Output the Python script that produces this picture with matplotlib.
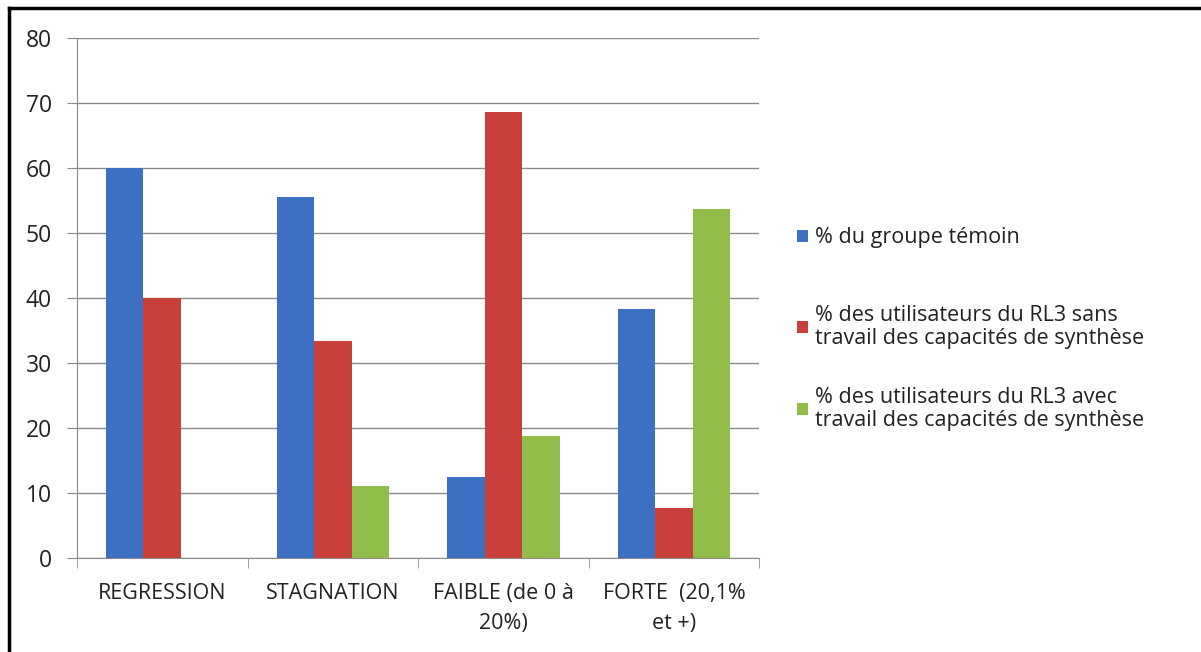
import numpy as np
import matplotlib
matplotlib.use("Agg")
import matplotlib.pyplot as plt
from matplotlib.lines import Line2D

plt.rcParams['font.family'] = ['Open Sans', 'DejaVu Sans']

categories = ["REGRESSION", "STAGNATION", "FAIBLE (de 0 à\n20%)", "FORTE  (20,1%\net +)"]
temoin = [60.0, 55.5, 12.4, 38.3]
sans_synthese = [40.0, 33.4, 68.6, 7.7]
avec_synthese = [0.0, 11.1, 18.8, 53.7]
series_labels = ["% du groupe témoin",
                 "% des utilisateurs du RL3 sans\ntravail des capacités de synthèse",
                 "% des utilisateurs du RL3 avec\ntravail des capacités de synthèse"]
colors = ["#3d6fc2", "#c9403b", "#93bd4a"]

fig = plt.figure(figsize=(12.01, 6.52), dpi=100)
ax = fig.add_axes([0.0641, 0.1442, 0.568, 0.7975])

x = np.arange(len(categories))
w = 0.22
handles = []
for i, (vals, col) in enumerate(zip([temoin, sans_synthese, avec_synthese], colors)):
    b = ax.bar(x + (i - 1) * w, vals, width=w, color=col, zorder=3)
    handles.append(b)

ax.set_xlim(-0.5, len(categories) - 0.5)
ax.set_ylim(0, 80)
ax.set_yticks(range(0, 81, 10))
ax.yaxis.grid(True, color="#8a8a8a", linewidth=1.0, zorder=0)
ax.set_xticks(x)
ax.set_xticklabels(categories, fontsize=15.5, color="#222222", linespacing=1.55)
ax.tick_params(axis="x", length=0, pad=18)
ax.set_xticks(np.arange(-0.5, len(categories), 1.0), minor=True)
ax.tick_params(axis="x", which="minor", length=7, color="#8a8a8a")
ax.tick_params(axis="y", length=7, color="#8a8a8a", labelsize=16.5, labelcolor="#222222", pad=11)
for s in ["top", "right"]:
    ax.spines[s].set_visible(False)
for s in ["left", "bottom"]:
    ax.spines[s].set_color("#8a8a8a")

# one legend per entry so the vertical spacing can follow the reference
legend_y = [238, 327, 409]
for h, lab, yp in zip(handles, series_labels, legend_y):
    leg = fig.legend([h], [lab], loc="center left", bbox_to_anchor=(0.664, 1 - yp / 652),
                     frameon=False, fontsize=15.5, handlelength=0.5, handleheight=0.5,
                     handletextpad=0.3, borderpad=0, borderaxespad=0)
    for t in leg.get_texts():
        t.set_color("#222222")
        t.set_linespacing(1.15)

# black frame on top and left edges
fig.add_artist(Line2D([0.0075, 1.0], [0.988, 0.988], transform=fig.transFigure, color="black", linewidth=2.5))
fig.add_artist(Line2D([0.0075, 0.0075], [0.0, 0.988], transform=fig.transFigure, color="black", linewidth=2.5))

fig.savefig("out.png", dpi=100)
